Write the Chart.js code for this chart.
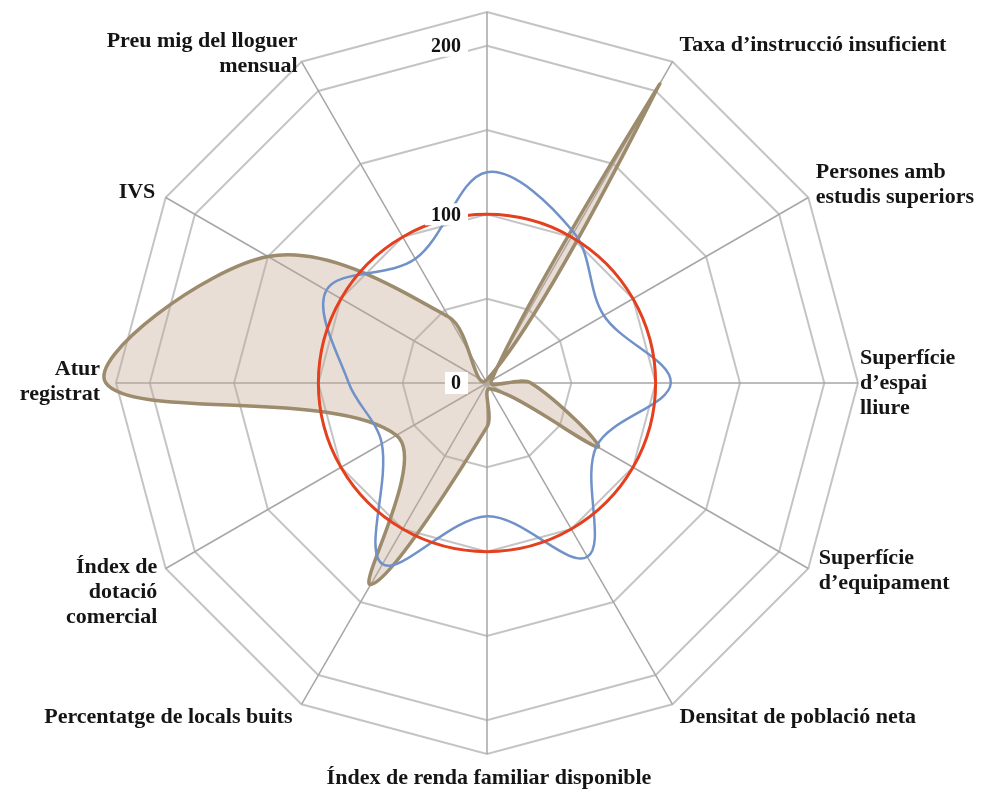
<!DOCTYPE html>
<html lang="ca">
<head>
<meta charset="utf-8">
<title>Índexs del barri</title>
<script src="https://cdn.jsdelivr.net/npm/chart.js@4.4.1/dist/chart.umd.min.js"></script>
<style>
  html, body { margin: 0; padding: 0; background: #fff; }
  canvas { display: block; }
</style>
</head>
<body>
<canvas id="radarChart" width="987" height="796"></canvas>
<script>
// Axis names, clockwise from the top spoke (the top one has no name)
const axisNames = [
  "",
  "Taxa d’instrucció insuficient",
  ["Persones amb", "estudis superiors"],
  ["Superfície", "d’espai", "lliure"],
  ["Superfície", "d’equipament"],
  "Densitat de població neta",
  "Índex de renda familiar disponible",
  "Percentatge de locals buits",
  ["Índex de", "dotació", "comercial"],
  ["Atur", "registrat"],
  "IVS",
  ["Preu mig del lloguer", "mensual"],
];

// Index values (city average = 100)
const cityIndex = [100, 100, 100, 100, 100, 100, 100, 100, 100, 100, 100, 100];
const districtIndex = [125, 103, 80, 109, 75, 119, 79, 124, 72, 82, 110, 85];
const neighbourhoodIndex = [2, 205, 3, 26, 76, 4, 26, 138, 62, 226, 150, 45];

// Rings of the web and the ones that get a number
const ringValues = [0, 50, 100, 150, 200, 220];
const tickLabels = [0, 100, 200];

// Small per-axis shifts for the names [dx, dy]
const labelNudges = [
  [0, 0], [1, -6], [-3, -7], [-10, 0], [0, -4], [1, 3],
  [2, 12], [-3, 3], [2, 18], [-4, -1], [0, 1], [2, 3],
];

const serif = '"Liberation Serif", "Times New Roman", serif';

// Draws the axis names and the 0 / 100 / 200 numbers on top of the lines
const axisTextPlugin = {
  id: "axisText",
  afterDatasetsDraw(chart) {
    const scale = chart.scales.r;
    const ctx = chart.ctx;
    ctx.save();
    ctx.textBaseline = "middle";

    // 1. Tick numbers on white boxes, just left of the vertical spoke
    ctx.font = "bold 20px " + serif;
    ctx.textAlign = "right";
    tickLabels.forEach((value) => {
      const y = scale.yCenter - scale.getDistanceFromCenterForValue(value);
      const text = String(value);
      const w = ctx.measureText(text).width;
      const right = scale.xCenter - 26;
      ctx.fillStyle = "#ffffff";
      ctx.fillRect(right - w - 6, y - 11, w + 13, 22);
      ctx.fillStyle = "#111111";
      ctx.fillText(text, right, y + 1);
    });

    // 2. Axis names just outside the outer ring
    ctx.font = "bold 22px " + serif;
    ctx.fillStyle = "#151515";
    chart.data.labels.forEach((name, i) => {
      const lines = [].concat(name);
      const angle = Math.round((scale.getIndexAngle(i) * 180) / Math.PI);
      const pos = scale.getPointPosition(i, scale.drawingArea + 12);
      const [dx, dy] = labelNudges[i];
      ctx.textAlign = angle === 0 || angle === 180 ? "center" : angle < 180 ? "left" : "right";
      const top = pos.y + dy - ((lines.length - 1) * 25) / 2;
      lines.forEach((line, k) => ctx.fillText(line, pos.x + dx, top + k * 25));
    });

    ctx.restore();
  },
};

const ctx = document.getElementById("radarChart");

new Chart(ctx, {
  type: "radar",
  data: {
    labels: axisNames,
    datasets: [
      {
        label: "Barcelona",
        data: cityIndex,
        borderColor: "#e4401f",
        borderWidth: 3,
        fill: false,
      },
      {
        label: "Districte",
        data: districtIndex,
        borderColor: "#7191c9",
        borderWidth: 2.5,
        fill: false,
      },
      {
        label: "Barri",
        data: neighbourhoodIndex,
        borderColor: "#9c8b6c",
        borderWidth: 3.5,
        backgroundColor: "rgba(195, 168, 145, 0.38)",
        fill: "origin",
      },
    ],
  },
  options: {
    responsive: false,
    animation: false,
    layout: { padding: { top: 12, right: 13, bottom: 42, left: 0 }, autoPadding: false },
    elements: {
      line: { tension: 0.35 },
      point: { radius: 0, hoverRadius: 0 },
    },
    plugins: {
      legend: { display: false },
      tooltip: { enabled: false },
    },
    scales: {
      r: {
        min: 0,
        max: 220,
        // keep the 200 ring as well as the outer 220 one
        afterBuildTicks: (scale) => {
          scale.ticks = ringValues.map((value) => ({ value }));
        },
        ticks: { display: false },
        grid: { color: "#c4c4c4", lineWidth: 2 },
        angleLines: { color: "#a6a6a6", lineWidth: 1.5 },
        pointLabels: { display: false },
      },
    },
  },
  plugins: [axisTextPlugin],
});
</script>
</body>
</html>
